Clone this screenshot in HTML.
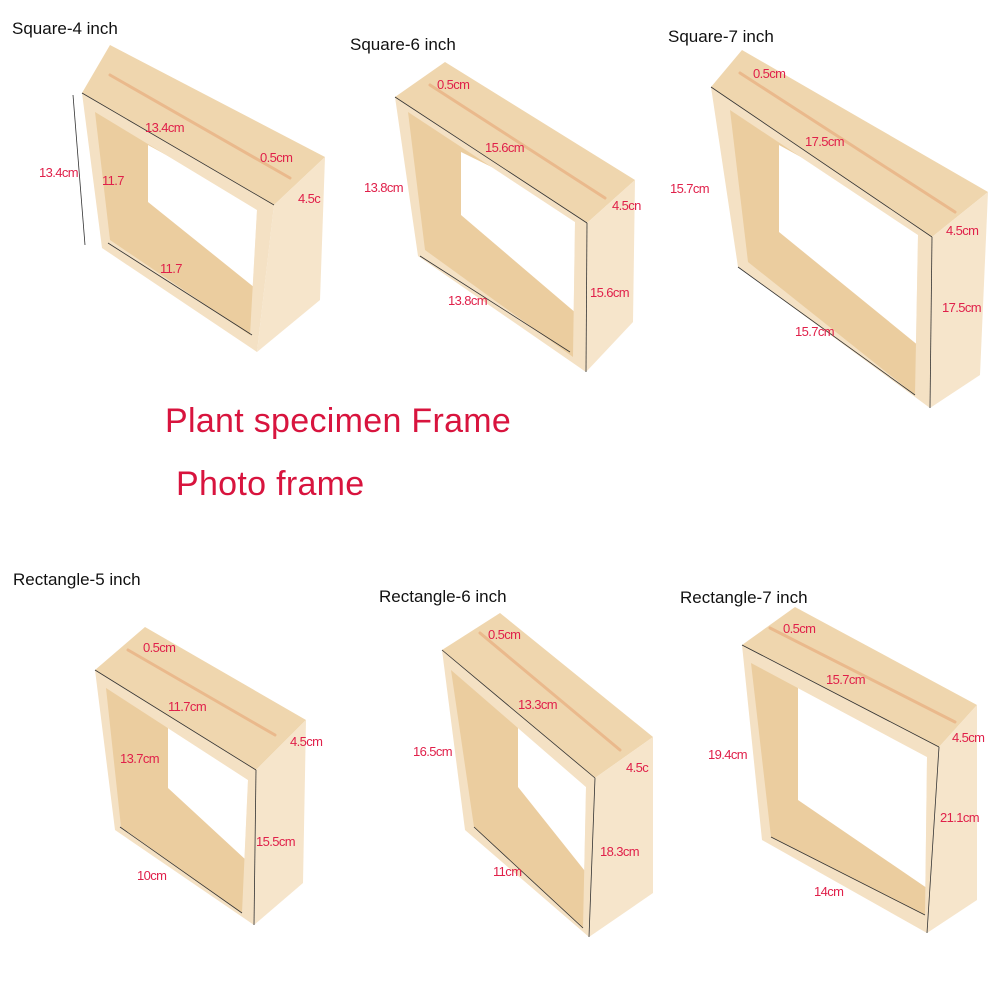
<!DOCTYPE html>
<html><head><meta charset="utf-8"><style>
html,body{margin:0;padding:0;background:#fff;width:1000px;height:1000px;overflow:hidden}
svg{display:block}
.t{font-family:"Liberation Sans",Arial,sans-serif;font-size:17px;fill:#111}
.r{font-family:"Liberation Sans",Arial,sans-serif;font-size:13px;fill:#e0204a;letter-spacing:-0.6px}
.big{font-family:"Liberation Sans",Arial,sans-serif;font-size:34px;fill:#d8143e;letter-spacing:0.3px}
.top{fill:#efd6ae}
.side{fill:#f6e5cb}
.front{fill:#f4e1c4}
.wall{fill:#ebcd9f}
.slot{stroke:#eab98c;stroke-width:3;stroke-linecap:round}
.m{stroke:#333;stroke-width:0.8}
</style></head><body>
<svg width="1000" height="1000" viewBox="0 0 1000 1000">
<defs>
<clipPath id="c1"><polygon points="95,112 257,210 250,335 110,240"/></clipPath>
<clipPath id="c2"><polygon points="408,112 575,222 573,357 425,250"/></clipPath>
<clipPath id="c3"><polygon points="730,110 918,235 915,395 748,262"/></clipPath>
<clipPath id="c4"><polygon points="106,688 248,780 242,913 121,827"/></clipPath>
<clipPath id="c5"><polygon points="451,670 586,787 583,928 474,827"/></clipPath>
<clipPath id="c6"><polygon points="751,663 927,757 925,915 771,837"/></clipPath>
</defs>

<!-- Frame 1 -->
<polygon class="top" points="82,93 274,205 325,157 110,45"/>
<line class="slot" x1="110" y1="75" x2="290" y2="178"/>
<polygon class="side" points="274,205 325,157 320,300 257,352"/>
<polygon class="front" points="82,93 274,205 257,352 102,248"/>
<polygon class="wall" points="95,112 257,210 250,335 110,240"/>
<polygon fill="#fff" clip-path="url(#c1)" points="148,145 270,212 270,300 148,202"/>
<line class="m" x1="73" y1="95" x2="85" y2="245"/>
<line class="m" x1="82" y1="93" x2="274" y2="205"/>
<line class="m" x1="108" y1="243" x2="252" y2="335"/>

<!-- Frame 2 -->
<polygon class="top" points="395,97 587,223 635,180 445,62"/>
<line class="slot" x1="430" y1="85" x2="605" y2="198"/>
<polygon class="side" points="587,223 635,180 633,322 586,372"/>
<polygon class="front" points="395,97 587,223 586,372 418,256"/>
<polygon class="wall" points="408,112 575,222 573,357 425,250"/>
<polygon fill="#fff" clip-path="url(#c2)" points="461,152 590,215 590,325 461,215"/>
<line class="m" x1="395" y1="97" x2="587" y2="223"/>
<line class="m" x1="587" y1="223" x2="586" y2="372"/>
<line class="m" x1="420" y1="256" x2="570" y2="352"/>

<!-- Frame 3 -->
<polygon class="top" points="711,87 932,237 988,192 742,50"/>
<line class="slot" x1="740" y1="73" x2="955" y2="212"/>
<polygon class="side" points="932,237 988,192 980,375 930,408"/>
<polygon class="front" points="711,87 932,237 930,408 738,267"/>
<polygon class="wall" points="730,110 918,235 915,395 748,262"/>
<polygon fill="#fff" clip-path="url(#c3)" points="779,145 930,228 930,355 779,232"/>
<line class="m" x1="711" y1="87" x2="932" y2="237"/>
<line class="m" x1="932" y1="237" x2="930" y2="408"/>
<line class="m" x1="738" y1="267" x2="915" y2="395"/>

<!-- Frame 4 -->
<polygon class="top" points="95,670 256,770 306,720 145,627"/>
<line class="slot" x1="128" y1="650" x2="275" y2="735"/>
<polygon class="side" points="256,770 306,720 303,883 254,925"/>
<polygon class="front" points="95,670 256,770 254,925 115,830"/>
<polygon class="wall" points="106,688 248,780 242,913 121,827"/>
<polygon fill="#fff" clip-path="url(#c4)" points="168,720 260,780 260,873 168,788"/>
<line class="m" x1="95" y1="670" x2="256" y2="770"/>
<line class="m" x1="256" y1="770" x2="254" y2="925"/>
<line class="m" x1="120" y1="827" x2="242" y2="913"/>

<!-- Frame 5 -->
<polygon class="top" points="442,650 595,778 653,737 500,613"/>
<line class="slot" x1="480" y1="633" x2="620" y2="750"/>
<polygon class="side" points="595,778 653,737 653,893 589,937"/>
<polygon class="front" points="442,650 595,778 589,937 465,830"/>
<polygon class="wall" points="451,670 586,787 583,928 474,827"/>
<polygon fill="#fff" clip-path="url(#c5)" points="518,695 600,780 600,890 518,787"/>
<line class="m" x1="442" y1="650" x2="595" y2="778"/>
<line class="m" x1="595" y1="778" x2="589" y2="937"/>
<line class="m" x1="474" y1="827" x2="583" y2="928"/>

<!-- Frame 6 -->
<polygon class="top" points="742,645 939,747 977,705 795,607"/>
<line class="slot" x1="770" y1="628" x2="955" y2="722"/>
<polygon class="side" points="939,747 977,705 977,900 927,933"/>
<polygon class="front" points="742,645 939,747 927,933 762,840"/>
<polygon class="wall" points="751,663 927,757 925,915 771,837"/>
<polygon fill="#fff" clip-path="url(#c6)" points="798,687 940,750 940,897 798,800"/>
<line class="m" x1="742" y1="645" x2="939" y2="747"/>
<line class="m" x1="939" y1="747" x2="927" y2="933"/>
<line class="m" x1="771" y1="837" x2="925" y2="915"/>

<!-- Titles -->
<text class="t" x="12" y="34">Square-4 inch</text>
<text class="t" x="350" y="50">Square-6 inch</text>
<text class="t" x="668" y="42">Square-7 inch</text>
<text class="t" x="13" y="585">Rectangle-5 inch</text>
<text class="t" x="379" y="602">Rectangle-6 inch</text>
<text class="t" x="680" y="603">Rectangle-7 inch</text>

<text class="big" x="165" y="432">Plant specimen Frame</text>
<text class="big" x="176" y="495">Photo frame</text>

<!-- Dimension labels -->
<text class="r" x="145" y="132">13.4cm</text>
<text class="r" x="260" y="162">0.5cm</text>
<text class="r" x="298" y="203">4.5c</text>
<text class="r" x="39" y="177">13.4cm</text>
<text class="r" x="102" y="185">11.7</text>
<text class="r" x="160" y="273">11.7</text>

<text class="r" x="437" y="89">0.5cm</text>
<text class="r" x="485" y="152">15.6cm</text>
<text class="r" x="364" y="192">13.8cm</text>
<text class="r" x="612" y="210">4.5cn</text>
<text class="r" x="448" y="305">13.8cm</text>
<text class="r" x="590" y="297">15.6cm</text>

<text class="r" x="753" y="78">0.5cm</text>
<text class="r" x="805" y="146">17.5cm</text>
<text class="r" x="670" y="193">15.7cm</text>
<text class="r" x="946" y="235">4.5cm</text>
<text class="r" x="795" y="336">15.7cm</text>
<text class="r" x="942" y="312">17.5cm</text>

<text class="r" x="143" y="652">0.5cm</text>
<text class="r" x="168" y="711">11.7cm</text>
<text class="r" x="290" y="746">4.5cm</text>
<text class="r" x="120" y="763">13.7cm</text>
<text class="r" x="256" y="846">15.5cm</text>
<text class="r" x="137" y="880">10cm</text>

<text class="r" x="488" y="639">0.5cm</text>
<text class="r" x="518" y="709">13.3cm</text>
<text class="r" x="413" y="756">16.5cm</text>
<text class="r" x="626" y="772">4.5c</text>
<text class="r" x="493" y="876">11cm</text>
<text class="r" x="600" y="856">18.3cm</text>

<text class="r" x="783" y="633">0.5cm</text>
<text class="r" x="826" y="684">15.7cm</text>
<text class="r" x="708" y="759">19.4cm</text>
<text class="r" x="952" y="742">4.5cm</text>
<text class="r" x="940" y="822">21.1cm</text>
<text class="r" x="814" y="896">14cm</text>
</svg>
</body></html>
